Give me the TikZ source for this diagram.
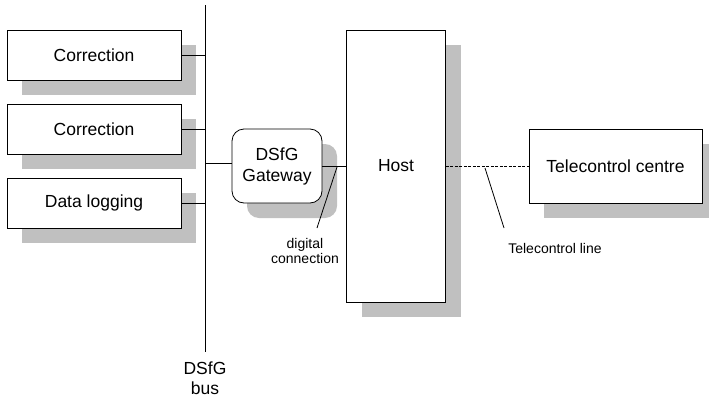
\documentclass[tikz,border=0pt]{standalone}
\usepackage{fontspec}
\setmainfont{Liberation Sans}
\usetikzlibrary{shadows}
\definecolor{shadowgray}{RGB}{192,192,192}
\tikzset{
  unit/.style={draw, fill=white, line width=0.8pt, inner sep=0pt, align=center,
    minimum width=174pt, minimum height=50pt,
    font=\fontsize{17.5}{21}\selectfont,
    drop shadow={shadow xshift=15pt, shadow yshift=-15pt, fill=shadowgray, opacity=1}},
  note/.style={inner sep=0pt, align=center, font=\fontsize{14}{15.5}\selectfont},
  wire/.style={line width=0.8pt}
}
\begin{document}
\begin{tikzpicture}[x=1pt, y=-1pt]
  \useasboundingbox (0,0) rectangle (709,399);
  % bus
  \coordinate (bustop) at (205,5);
  \coordinate (busbot) at (205,352);
  \draw[wire] (bustop) -- (busbot);
  \node[note, font=\fontsize{17.5}{20}\selectfont, anchor=north] (buslabel) at (205,362) {DSfG\\bus};
  % devices on the bus
  \node[unit] (corr1) at (94,55) {Correction};
  \node[unit] (corr2) at (94,129) {Correction};
  \node[unit] (logger) at (94,203) {Data logging};
  \draw[wire] (corr1.east) -- (corr1.east -| bustop);
  \draw[wire] (corr2.east) -- (corr2.east -| bustop);
  \draw[wire] (logger.east) -- (logger.east -| bustop);
  % gateway and host
  \node[unit, rounded corners=12pt, minimum width=90pt, minimum height=74pt] (gateway) at (277,166) {DSfG\\Gateway};
  \node[unit, minimum width=99pt, minimum height=272pt] (host) at (396,166) {Host};
  \node[unit, minimum width=173pt, minimum height=74pt] (centre) at (615.5,166) {Telecontrol centre};
  \coordinate (gwin) at (205,163);
  \draw[wire] (gwin) -- (gwin -| gateway.west);
  \draw[wire] (gateway.east) -- (host.west);
  \draw[wire, dashed, dash pattern=on 3pt off 1.5pt] (host.east) -- (centre.west);
  % labels
  \coordinate (digtip) at (337,167);
  \node[note, anchor=north] (diglabel) at (305,238) {digital\\connection};
  \draw[wire] (digtip) -- (317,228);
  \coordinate (teletip) at (485,168);
  \node[note] (telelabel) at (555,248) {Telecontrol line};
  \draw[wire] (teletip) -- (504,228);
\end{tikzpicture}
\end{document}
